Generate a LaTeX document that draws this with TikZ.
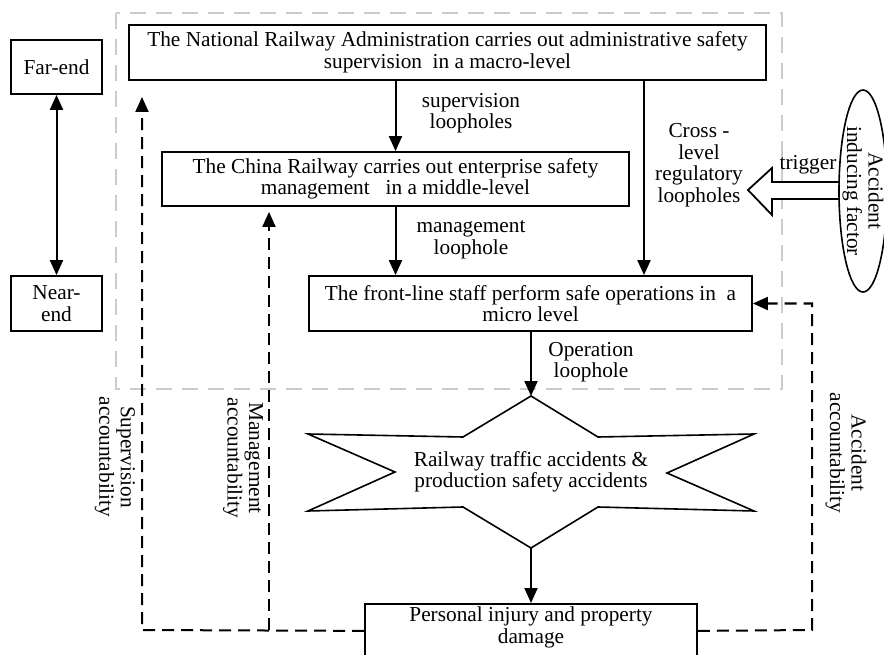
\documentclass[tikz,border=0pt]{standalone}
\usepackage{fontspec}
\setmainfont{Liberation Serif}
\usetikzlibrary{arrows.meta,shapes.geometric}
\begin{document}
\begin{tikzpicture}[x=1pt,y=-1pt,
 font=\fontsize{21.3}{21.5}\selectfont,
 box/.style={draw,line width=1.8pt,align=center,inner sep=0pt,fill=white},
 lbl/.style={align=center,inner sep=0pt},
 tip/.style={},
 arr/.style={line width=2pt,-{Triangle[width=13pt,length=15pt]}},
 dsh/.style={line width=2pt,dash pattern=on 12pt off 7pt},
 darr/.style={dsh,-{Triangle[width=13pt,length=15pt]}},
]
\useasboundingbox (0,0) rectangle (884,655);
% gray dashed frame
\draw[black!20, line width=1.3pt, dash pattern=on 16pt off 10pt] (116,13) rectangle (782,389);

% far / near
\node[box,minimum width=91pt,minimum height=54pt] (far) at (56.5,67) {Far-end};
\node[box,minimum width=91pt,minimum height=55pt] (near) at (56.5,303.5) {Near-\\end};
\draw[line width=2pt,{Triangle[width=13pt,length=15pt]}-{Triangle[width=13pt,length=15pt]}] (far) -- (near);

% main boxes
\node[box,minimum width=637pt,minimum height=55pt] (nra) at (447.5,52.5) {The National Railway Administration carries out administrative safety\\supervision\ \ in a macro-level};
\node[box,minimum width=467pt,minimum height=54pt] (cr) at (395.5,179) {The China Railway carries out enterprise safety\\management\ \ \ in a middle-level};
\node[box,minimum width=443pt,minimum height=55pt] (fl) at (530.5,303.5) {The front-line staff perform safe operations in\ \ a\\micro level};

% coordinates
\coordinate (xcross) at (644,0);
\coordinate (stt) at (531,396);
\coordinate (sbt) at (531,548);
\coordinate (supTip) at (142,97);
\coordinate (supCorner) at (142,630);
\coordinate (mgCorner) at (269,630);
\coordinate (accCorner) at (812,630);
\coordinate (accTop) at (812,303.5);

% star
\draw[line width=1.6pt,fill=white] (stt) -- (598,437) -- (754,434) -- (667,473) -- (754,511) -- (598,507) -- (sbt) -- (463,507) -- (308,511) -- (395,472) -- (308,434) -- (463,437) -- cycle;
\node[lbl] (star) at (531,472) {Railway traffic accidents \&\\production safety accidents};

% personal injury box
\node[draw,line width=1.8pt,minimum width=332pt,minimum height=54pt,anchor=north,inner sep=0pt] (pid) at (531,603) {};
\node[lbl] (pidt) at (531,627.5) {Personal injury and property\\damage};

% solid arrows
\draw[arr] (cr.north |- nra.south) -- (cr.north);
\draw[arr] (cr.south) -- (cr.south |- fl.north);
\draw[arr] (nra.south -| xcross) -- (fl.north -| xcross);
\draw[arr] (fl.south -| stt) -- (stt);
\draw[arr] (sbt) -- (pid.north);

% hollow trigger arrow
\draw[line width=1.8pt,fill=white] (748,190) -- (772,168) -- (772,182) -- (842,182) -- (842,199) -- (772,199) -- (772,215) -- cycle;
\node[draw,ellipse,line width=1.6pt,fill=white,minimum width=48pt,minimum height=202pt,inner sep=0pt] (acc) at (863,191) {};
\node[lbl,rotate=-90] (acct) at (863,191) {Accident\\inducing factor};

% dashed accountability lines
\draw[darr] (pid.west) -- (supCorner) -- (supTip);
\draw[darr,shorten >=5pt] (mgCorner) -- (cr.south -| mgCorner);
\draw[darr] (pid.east) -- (accCorner) -- (accTop) -- (fl.east);

% labels
\node[lbl] (l1) at (471,113) {supervision\\loopholes};
\node[lbl] (l2) at (471,240) {management\\loophole};
\node[lbl] (l3) at (699,165) {Cross -\\level\\regulatory\\loopholes};
\node[lbl] (l4) at (808,165) {trigger};
\node[lbl] (l5) at (591,362) {Operation\\loophole};
\node[lbl,rotate=-90] (l6) at (115,457) {Supervision\\accountability};
\node[lbl,rotate=-90] (l7) at (243,458) {Management\\accountability};
\node[lbl,rotate=-90] (l8) at (846,453) {Accident\\accountability};
\end{tikzpicture}
\end{document}
